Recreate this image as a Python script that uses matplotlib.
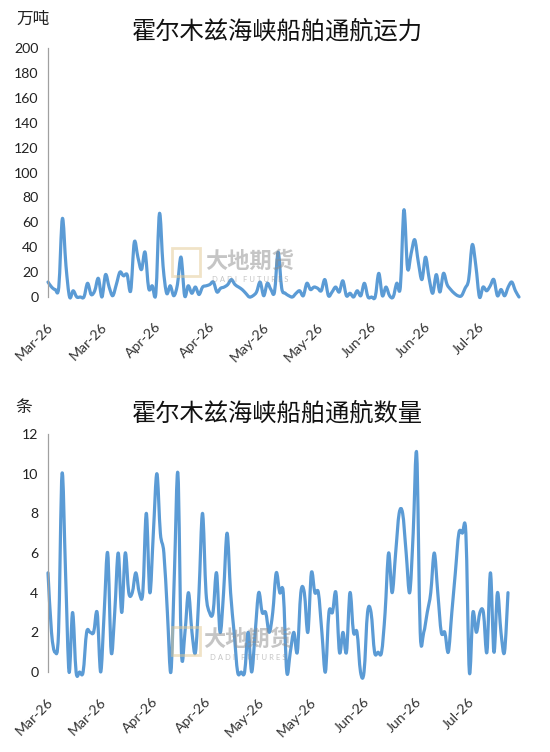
import numpy as np
import pandas as pd
import matplotlib
matplotlib.use("Agg")
import matplotlib.pyplot as plt
import matplotlib.dates as mdates
import matplotlib.transforms as mtransforms
from matplotlib.patches import Rectangle, PathPatch
from matplotlib.path import Path

plt.rcParams['font.family'] = ['Lato', 'Noto Sans CJK SC', 'DejaVu Sans']

# Data (daily)
dates = pd.date_range('2026-03-05', periods=132, freq='D')

capacity = [12, 8, 6, 8, 63, 25, 0, 5, 0, 0, 0, 11, 2, 5, 15, 0, 18, 8, 1, 10,
            20, 17, 18, 5, 44, 32, 22, 36, 7, 9, 3, 67, 25, 3, 9, 1, 10, 32, 1, 9,
            3, 8, 2, 8, 9, 10, 12, 4, 7, 8, 10, 14, 10, 8, 6, 3, 0, 1, 4, 12,
            1, 11, 6, 4, 36, 7, 3, 1, 0, 3, 5, 1, 11, 6, 8, 7, 5, 14, 1, 4,
            8, 4, 13, 1, 3, 0, 5, 1, 11, 0, 0, 0, 19, 1, 8, 1, 0, 11, 8, 70,
            23, 35, 46, 28, 14, 32, 15, 3, 18, 4, 19, 10, 6, 3, 1, 1, 7, 14, 42, 25,
            0, 8, 5, 9, 14, 1, 6, 1, 8, 12, 5, 0]

ships = [5, 2, 1, 2, 10, 5, 0, 3, 0, 0, 0, 2, 2, 2, 3, 0, 3, 6, 1, 3,
         6, 3, 6, 4, 4, 5, 4, 4, 8, 4, 7, 10, 7, 6, 3, 0, 5, 10, 1, 2,
         4, 2, 1, 4, 8, 4, 3, 3, 5, 2, 4, 7, 4, 2, 0, 0, 0, 2, 0, 2,
         4, 3, 3, 2, 3, 5, 4, 4, 0, 1, 2, 1, 4, 4, 2, 5, 4, 4, 2, 0,
         3, 3, 4, 1, 2, 1, 4, 2, 2, 0, 0, 3, 3, 1, 1, 1, 3, 6, 4, 6,
         8, 8, 6, 4, 7, 11, 2, 2, 3, 4, 6, 4, 2, 2, 1, 3, 5, 7, 7, 7,
         0, 3, 2, 3, 3, 1, 5, 1, 4, 2, 1, 4]

titles = ['霍尔木兹海峡船舶通航运力', '霍尔木兹海峡船舶通航数量']
units = ['万吨', '条']

line_color = '#5B9BD5'
cjk = ['Noto Sans CJK SC', 'DejaVu Sans']


def smooth_path(x, y):
    # Excel-style smoothed line: Bezier segments through every data point
    pts = np.column_stack([x, y]).astype(float)
    n = len(pts)
    verts = [pts[0]]
    codes = [Path.MOVETO]
    for i in range(n - 1):
        p0 = pts[max(i - 1, 0)]
        p1 = pts[i]
        p2 = pts[i + 1]
        p3 = pts[min(i + 2, n - 1)]
        verts += [p1 + (p2 - p0) / 6, p2 - (p3 - p1) / 6, p2]
        codes += [Path.CURVE4] * 3
    return Path(verts, codes)


fig = plt.figure(figsize=(5.5, 7.52), dpi=100)
ax1 = fig.add_axes([48 / 550, 1 - 297 / 752, 471 / 550, 249 / 752])
ax2 = fig.add_axes([48 / 550, 1 - 672 / 752, 460 / 550, 238 / 752])

shift = mtransforms.ScaledTranslation(0.03, 0, fig.dpi_scale_trans)

xnum = mdates.date2num(dates)
for ax, vals, ymax, ystep in [(ax1, capacity, 200, 20), (ax2, ships, 12, 2)]:
    ax.add_patch(PathPatch(smooth_path(xnum, vals), fill=False, edgecolor=line_color,
                           lw=2.3, joinstyle='round', capstyle='round', clip_on=False))
    ax.set_xlim(xnum[0], xnum[-1])
    ax.set_ylim(0, ymax)
    ax.set_yticks(np.arange(0, ymax + 1, ystep))
    ax.set_xticks(xnum[::15])
    ax.xaxis.set_major_formatter(mdates.DateFormatter('%b-%y'))
    for s in ['top', 'right', 'bottom']:
        ax.spines[s].set_visible(False)
    ax.spines['left'].set_color('#a0a0a0')
    ax.spines['left'].set_linewidth(0.9)
    ax.tick_params(axis='y', length=0, pad=7, labelsize=10.2, labelcolor='#222222')
    ax.tick_params(axis='x', length=0, pad=20, labelsize=10.2, labelcolor='#333333')
    for lab in ax.get_xticklabels():
        lab.set_rotation(45)
        lab.set_rotation_mode('anchor')
        lab.set_ha('right')
        lab.set_va('center')
        lab.set_transform(lab.get_transform() + shift)

# titles and units
fig.text(277 / 550, 1 - 32 / 752, titles[0], ha='center', va='center',
         fontsize=17.5, family=cjk, color='#111111')
fig.text(277 / 550, 1 - 414 / 752, titles[1], ha='center', va='center',
         fontsize=17.5, family=cjk, color='#111111')
fig.text(33 / 550, 1 - 19 / 752, units[0], ha='center', va='center',
         fontsize=12, family=cjk, color='#222222')
fig.text(24 / 550, 1 - 408 / 752, units[1], ha='center', va='center',
         fontsize=12, family=cjk, color='#222222')

# watermark
for (lx, ly, tx, ty, fy) in [(172, 248, 250, 261, 280), (172, 627, 248, 639, 657)]:
    fig.patches.append(Rectangle((lx / 550, 1 - (ly + 28) / 752), 28 / 550, 28 / 752,
                                 transform=fig.transFigure, fill=False,
                                 edgecolor='#e3c890', lw=2, alpha=0.5))
    fig.text(tx / 550, 1 - ty / 752, '大地期货', ha='center', va='center',
             fontsize=16, family=cjk, color='#8c8c8c', alpha=0.5, fontweight='bold')
    fig.text(tx / 550, 1 - fy / 752, 'D A D I   F U T U R E S', ha='center', va='center',
             fontsize=5.5, color='#8c8c8c', alpha=0.5)

fig.savefig('out.png', dpi=100)
